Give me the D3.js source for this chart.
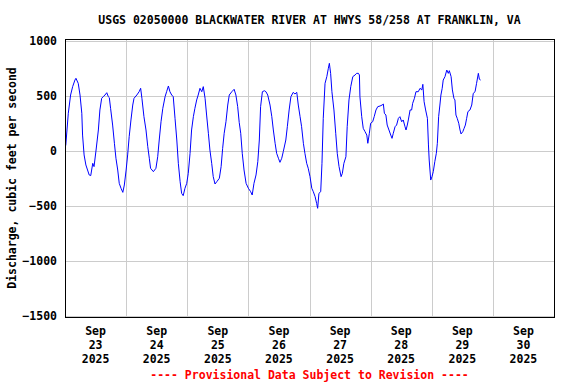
<!DOCTYPE html>
<html>
<head>
<meta charset="utf-8">
<script src="https://cdn.jsdelivr.net/npm/d3@7"></script>
<style>
  html, body { margin: 0; padding: 0; background: #fff; }
  svg { display: block; }
  text { font-family: "DejaVu Sans Mono", "Liberation Mono", monospace; font-weight: bold; }
</style>
</head>
<body>
<svg id="chart" width="576" height="384"></svg>
<script>
// ---- data ----
const title = "USGS 02050000 BLACKWATER RIVER AT HWYS 58/258 AT FRANKLIN, VA";
const yLabel = "Discharge, cubic feet per second";
const note = "---- Provisional Data Subject to Revision ----";
const startDate = new Date(2025, 8, 23);   // Sep 23 2025 00:00
const endDate = new Date(2025, 9, 1);      // Oct 1 2025 00:00
const yTicks = [1000, 500, 0, -500, -1000, -1500];
const tickMonths = ["Sep", "Sep", "Sep", "Sep", "Sep", "Sep", "Sep", "Sep"];
const tickDays = ["23", "24", "25", "26", "27", "28", "29", "30"];
const tickYears = ["2025", "2025", "2025", "2025", "2025", "2025", "2025", "2025"];

// hours since Sep 23 00:00
const hours = [
  0.3, 1.3, 2.2, 3.0, 3.9, 4.3, 5.2, 5.9, 6.6, 6.9, 7.5, 8.2, 9.5, 10.1, 10.9, 11.4,
  12.2, 13.1, 13.7, 14.4, 15.0, 15.7, 16.4, 17.0, 17.4, 17.9, 18.7, 19.4, 20.0, 20.7,
  21.3, 22.0, 22.7, 23.3, 24.0, 24.6, 25.2, 25.9, 26.6, 27.1, 28.2, 29.1, 29.7, 30.2,
  31.0, 31.8, 32.5, 33.1, 33.6, 34.7, 35.7, 36.4, 37.0, 37.7, 38.4, 39.3, 39.9, 40.6,
  41.2, 41.9, 42.5, 43.2, 43.9, 44.5, 45.2, 45.8, 46.4, 47.1, 47.8, 48.4, 49.1, 49.7,
  50.4, 51.0, 51.7, 52.3, 53.0, 53.7, 54.3, 55.0, 55.6, 56.3, 56.9, 57.6, 58.2, 58.9,
  59.6, 60.6, 61.3, 61.9, 62.5, 63.2, 63.9, 64.5, 65.5, 66.4, 67.1, 67.8, 68.4, 69.0,
  69.6, 70.3, 71.1, 72.0, 72.9, 73.5, 74.2, 75.0, 75.7, 76.3, 76.8, 77.5, 78.3, 78.9,
  79.6, 80.5, 81.2, 81.8, 82.5, 83.1, 83.8, 84.4, 85.1, 85.7, 86.7, 87.3, 88.0, 88.7,
  89.6, 90.3, 91.0, 91.6, 92.3, 92.9, 93.6, 94.2, 94.9, 95.5, 96.2, 96.9, 97.5, 98.2,
  98.8, 99.2, 99.7, 100.4, 100.9, 101.4, 102.1, 102.8, 103.4, 103.8, 104.3, 104.8,
  105.6, 106.3, 106.9, 107.6, 108.4, 108.9, 109.5, 110.3, 110.8, 111.5, 112.2, 113.0,
  113.9, 114.5, 115.2, 115.6, 115.8, 116.5, 117.1, 117.8, 118.5, 118.9, 119.5, 120.0,
  120.8, 121.4, 122.1, 122.8, 123.7, 124.5, 125.0, 125.4, 126.0, 126.5, 127.2, 127.9,
  128.4, 128.9, 129.6, 130.2, 130.9, 131.5, 132.2, 132.8, 133.5, 133.9, 134.4, 134.8,
  135.5, 136.1, 136.5, 137.2, 137.8, 138.7, 139.4, 140.1, 140.5, 141.0, 141.6, 142.3,
  142.7, 143.0, 143.6, 144.1, 144.6, 145.2, 145.8, 146.2, 146.7, 147.2, 147.6, 148.1,
  148.5, 149.2, 149.9, 150.5, 150.9, 151.6, 152.1, 152.7, 153.1, 153.5, 154.0, 154.6,
  155.1, 155.5, 156.2, 156.7, 157.2, 157.7, 158.2, 159.0, 159.7, 160.3, 161.0, 161.6,
  162.3, 162.7, 163.2
];
const discharge = [
  50, 343, 509, 585, 645, 661, 615, 509, 343, 145, -36, -127, -218, -224, -112, -142,
  9, 191, 373, 479, 494, 509, 530, 494, 485, 388, 236, 70, -66, -173,
  -294, -339, -376, -309, -173, -36, 130, 282, 418, 479, 509, 539, 570, 479,
  312, 191, 39, -66, -157, -188, -157, -52, 100, 266, 388, 494, 539, 591,
  539, 509, 494, 297, 100, -112, -279, -385, -406, -339, -294, -203, -21, 191,
  312, 388, 464, 509, 570, 539, 585, 479, 327, 161, 9, -112, -233, -300,
  -279, -248, -142, 24, 161, 266, 418, 509, 539, 561, 509, 403, 260, 161,
  -21, -173, -294, -339, -370, -400, -294, -218, -97, 100, 403, 539, 548, 539,
  509, 418, 312, 191, 70, -21, -66, -103, -66, -6, 100, 221, 373, 494,
  533, 518, 533, 418, 312, 221, 70, -21, -112, -157, -233, -339, -370, -415,
  -476, -521, -385, -370, -112, 297, 615, 676, 752, 797, 706, 539,
  373, 161, -21, -142, -233, -203, -112, -52, 221, 464, 585, 676,
  691, 706, 706, 691, 494, 312, 206, 176, 145, 70, 161, 252,
  266, 312, 373, 403, 409, 418, 427, 343, 327, 236, 191, 145,
  115, 161, 221, 236, 297, 312, 266, 282, 221, 191, 236, 282,
  373, 373, 433, 479, 539, 539, 570, 555, 606, 448, 373, 297,
  55, -82, -264, -233, -188, -97, -21, 70, 312, 418, 509, 570,
  645, 676, 736, 706, 730, 676, 555, 479, 464, 327, 297, 252,
  191, 155, 176, 206, 236, 297, 358, 373, 418, 524, 539, 615,
  706, 652, 645
];

// ---- chart ----
const svg = d3.select("#chart");
const plot = { left: 65, right: 554, top: 39, bottom: 317 };

const x = d3.scaleTime().domain([startDate, endDate]).range([plot.left, plot.right]);
const y = d3.scaleLinear().domain([-1500, 1000]).range([316, 41]);

const data = hours.map((h, i) => ({ t: new Date(startDate.getTime() + h * 3600e3), v: discharge[i] }));

// gridlines
const days = d3.timeDay.range(d3.timeDay.offset(startDate, 1), endDate);
svg.append("g").selectAll("line").data(days).join("line")
  .attr("x1", d => Math.round(x(d)) + 0.5).attr("x2", d => Math.round(x(d)) + 0.5)
  .attr("y1", plot.top).attr("y2", plot.bottom)
  .attr("stroke", "#cccccc").attr("stroke-width", 1);
svg.append("g").selectAll("line").data(yTicks).join("line")
  .attr("x1", plot.left).attr("x2", plot.right)
  .attr("y1", d => Math.round(y(d)) + 0.5).attr("y2", d => Math.round(y(d)) + 0.5)
  .attr("stroke", "#cccccc").attr("stroke-width", 1);

// data line
const line = d3.line().x(d => x(d.t)).y(d => y(d.v));
svg.append("path").datum(data)
  .attr("d", line)
  .attr("fill", "none")
  .attr("stroke", "#0000ff")
  .attr("stroke-width", 1);

// frame
svg.append("rect")
  .attr("x", plot.left + 0.5).attr("y", plot.top + 0.5)
  .attr("width", plot.right - plot.left).attr("height", plot.bottom - plot.top)
  .attr("fill", "none").attr("stroke", "#000").attr("stroke-width", 1);

// y axis labels
const yAxis = d3.axisLeft(y).tickValues(yTicks).tickSize(0).tickPadding(8).tickFormat(d3.format("d"));
const ya = svg.append("g").attr("transform", `translate(${plot.left},0)`).call(yAxis);
ya.select(".domain").remove();
ya.selectAll("text").attr("font-size", "11.5px").attr("fill", "#000")
  .style("font-family", '"DejaVu Sans Mono", monospace').style("font-weight", "bold");

// x axis labels (centred at noon of each day)
const dayLabels = d3.timeDay.range(startDate, endDate);
const xl = svg.append("g").selectAll("g").data(dayLabels).join("g")
  .attr("transform", d => `translate(${x(d3.timeHour.offset(d, 12))},0)`);
[tickMonths, tickDays, tickYears].forEach((arr, k) => {
  xl.append("text")
    .attr("y", 335 + k * 14)
    .attr("text-anchor", "middle")
    .attr("font-size", "11.5px")
    .text((d, i) => arr[i]);
});

// title
svg.append("text")
  .attr("x", (plot.left + plot.right) / 2).attr("y", 24)
  .attr("text-anchor", "middle").attr("font-size", "11.5px")
  .text(title);

// y label
svg.append("text")
  .attr("transform", `translate(16,${(plot.top + plot.bottom) / 2}) rotate(-90)`)
  .attr("text-anchor", "middle").attr("font-size", "11.5px")
  .text(yLabel);

// note
svg.append("text")
  .attr("x", (plot.left + plot.right) / 2).attr("y", 379)
  .attr("text-anchor", "middle").attr("font-size", "11.5px")
  .attr("fill", "#ff0000")
  .text(note);
</script>
</body>
</html>
